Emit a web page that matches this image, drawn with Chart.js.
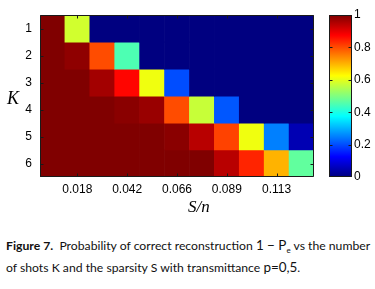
<!DOCTYPE html>
<html>
<head>
<meta charset="utf-8">
<script src="https://cdn.jsdelivr.net/npm/chart.js@4/dist/chart.umd.min.js"></script>
<style>
  html,body{margin:0;padding:0;background:#fff;}
  body{width:375px;height:289px;position:relative;overflow:hidden;}
  #main{position:absolute;left:0;top:0;width:320px;height:200px;}
  #cbar{position:absolute;left:320px;top:0;width:55px;height:200px;}
  .lab{position:absolute;font-family:"Liberation Serif",serif;font-style:italic;color:#000;white-space:nowrap;}
  #klab{left:7px;top:88px;font-size:18px;}
  #slab{left:188px;top:197px;font-size:17px;}
  #cap{position:absolute;left:6px;top:237px;font-family:Lato,"Open Sans",sans-serif;font-size:12px;line-height:16.5px;color:#111;white-space:nowrap;}
  #cap span.l{display:inline-block;}
  #cap b{font-weight:bold;}
  #cap .m{font-size:1.1em;}
</style>
</head>
<body>
<div id="main"><canvas id="c1"></canvas></div>
<div id="cbar"><canvas id="c2"></canvas></div>
<div class="lab" id="klab">K</div>
<div class="lab" id="slab">S/n</div>
<div id="cap"><span class="l" id="line1"><b>Figure 7.</b>&nbsp;&nbsp;Probability of correct reconstruction <span class="m">1 − P</span><sub style="font-size:0.65em">e</sub> vs the number</span><br><span class="l">of shots K and the sparsity S with transmittance <span class="m">p=0,5</span>.</span></div>
<script>
// ---- data ----
const sparsity = ['0.006','0.018','0.030','0.042','0.054','0.066','0.077','0.089','0.101','0.113','0.125'];
const shots = [1, 2, 3, 4, 5, 6];
const xTickLabels = ['0.018','0.042','0.066','0.089','0.113'];
const colorbarTicks = [0, 0.2, 0.4, 0.6, 0.8, 1];
const probK1 = [1.00, 0.58, 0.00, 0.00, 0.00, 0.00, 0.00, 0.00, 0.00, 0.00, 0.00];
const probK2 = [1.00, 0.985, 0.80, 0.45, 0.00, 0.00, 0.00, 0.00, 0.00, 0.00, 0.00];
const probK3 = [1.00, 1.00, 0.965, 0.87, 0.61, 0.20, 0.00, 0.00, 0.00, 0.00, 0.00];
const probK4 = [1.00, 1.00, 1.00, 0.99, 0.975, 0.80, 0.57, 0.21, 0.00, 0.00, 0.00];
const probK5 = [1.00, 1.00, 1.00, 1.00, 1.00, 0.99, 0.945, 0.81, 0.61, 0.25, 0.05];
const probK6 = [1.00, 1.00, 1.00, 1.00, 1.00, 1.00, 1.00, 0.945, 0.84, 0.70, 0.47];
const probRows = [probK1, probK2, probK3, probK4, probK5, probK6];

// fit caption line 1 to the reference width
(function(){
  const cap = document.getElementById('cap'), l1 = document.getElementById('line1');
  const target = 364;
  let fs = 12;
  for (let i = 0; i < 4; i++) {
    const w = l1.getBoundingClientRect().width;
    if (!w) break;
    fs = fs * target / w;
    cap.style.fontSize = fs + 'px';
  }
})();

// jet colormap
function jet(v){
  const c = x => Math.max(0, Math.min(1, x));
  const r = c(1.5 - Math.abs(4*v - 3));
  const g = c(1.5 - Math.abs(4*v - 2));
  const b = c(1.5 - Math.abs(4*v - 1));
  return 'rgb(' + Math.round(r*255) + ',' + Math.round(g*255) + ',' + Math.round(b*255) + ')';
}

const frameColor = '#1a1a1a';
const tickFont = {family: '"Liberation Sans", Arial, sans-serif', size: 12};

const framePlugin = {
  id: 'frame',
  afterDraw(chart, args, opts){
    const ctx = chart.ctx, a = chart.chartArea;
    ctx.save();
    ctx.strokeStyle = frameColor;
    ctx.lineWidth = 1;
    ctx.beginPath();
    const L = Math.round(a.left)+0.5, R = Math.round(a.right)-0.5, T = Math.round(a.top)+0.5, B = Math.round(a.bottom)-0.5;
    ctx.rect(L, T, R-L, B-T);
    ctx.stroke();
    const tl = 3;
    ctx.beginPath();
    (opts.xTicks || []).forEach(px => {
      const x = Math.round(px)+0.5;
      ctx.moveTo(x, B); ctx.lineTo(x, B - tl);
      ctx.moveTo(x, T); ctx.lineTo(x, T + tl);
    });
    (opts.yTicks || []).forEach(py => {
      const y = Math.round(py)+0.5;
      ctx.moveTo(L, y); ctx.lineTo(L + tl, y);
      ctx.moveTo(R, y); ctx.lineTo(R - tl, y);
    });
    ctx.stroke();
    ctx.restore();
  },
  beforeDraw(chart, args, opts){
    if (opts.compute) opts.compute(chart, opts);
  }
};

const datasets = shots.map((k, r) => ({
  label: 'K=' + k,
  data: sparsity.map(() => [k - 1, k]),
  backgroundColor: probRows[r].map(jet),
  borderWidth: 0,
  barPercentage: 1.0,
  categoryPercentage: 1.0,
  grouped: false
}));

new Chart(document.getElementById('c1'), {
  type: 'bar',
  data: {labels: sparsity, datasets: datasets},
  plugins: [framePlugin],
  options: {
    responsive: true,
    maintainAspectRatio: false,
    animation: false,
    devicePixelRatio: 1,
    layout: {padding: {top: 15, right: 6, left: 0, bottom: 0}},
    plugins: {
      legend: {display: false},
      tooltip: {enabled: false},
      frame: {
        compute(chart, opts){
          const xs = chart.scales.x;
          opts.xTicks = sparsity.map((s, i) => xTickLabels.includes(s) ? xs.getPixelForValue(i) : null).filter(v => v !== null);
          const ys = chart.scales.y;
          opts.yTicks = shots.map(k => ys.getPixelForValue(k - 0.5));
        }
      }
    },
    scales: {
      x: {
        type: 'category',
        grid: {display: false, drawTicks: false},
        border: {display: false},
        ticks: {
          autoSkip: false, maxRotation: 0, minRotation: 0, padding: 5,
          color: '#000', font: tickFont,
          callback: function(v, i){ return xTickLabels.includes(sparsity[i]) ? sparsity[i] : ''; }
        },
        afterFit(s){ s.height = 23; }
      },
      y: {
        type: 'linear', min: 0, max: 6, reverse: true,
        grid: {display: false, drawTicks: false},
        border: {display: false},
        afterBuildTicks(s){ s.ticks = shots.map(k => ({value: k - 0.5})); },
        ticks: {
          padding: 8, color: '#000', font: tickFont,
          callback: function(v, i){ return String(shots[i]); }
        },
        afterFit(s){ s.width = 40; }
      }
    }
  }
});

new Chart(document.getElementById('c2'), {
  type: 'bar',
  data: {labels: ['p'], datasets: [{
    data: [[0, 1]],
    backgroundColor: function(ctx){
      const a = ctx.chart.chartArea;
      if (!a) return '#000';
      const g = ctx.chart.ctx.createLinearGradient(0, a.bottom, 0, a.top);
      for (let i = 0; i <= 64; i++) g.addColorStop(i/64, jet(i/64));
      return g;
    },
    borderWidth: 0, barPercentage: 1.0, categoryPercentage: 1.0
  }]},
  plugins: [framePlugin],
  options: {
    responsive: true,
    maintainAspectRatio: false,
    animation: false,
    devicePixelRatio: 1,
    layout: {padding: {top: 15, right: 0, left: 9, bottom: 23}},
    plugins: {
      legend: {display: false},
      tooltip: {enabled: false},
      frame: {
        compute(chart, opts){
          const ys = chart.scales.y;
          opts.xTicks = [];
          opts.yTicks = colorbarTicks.slice(1, -1).map(v => ys.getPixelForValue(v));
        }
      }
    },
    scales: {
      x: {display: false},
      y: {
        type: 'linear', min: 0, max: 1, position: 'right',
        grid: {display: false, drawTicks: false},
        border: {display: false},
        afterBuildTicks(s){ s.ticks = colorbarTicks.map(v => ({value: v})); },
        ticks: {padding: 2, color: '#000', font: tickFont, callback: v => String(v)},
        afterFit(s){ s.width = 23; }
      }
    }
  }
});
</script>
</body>
</html>
